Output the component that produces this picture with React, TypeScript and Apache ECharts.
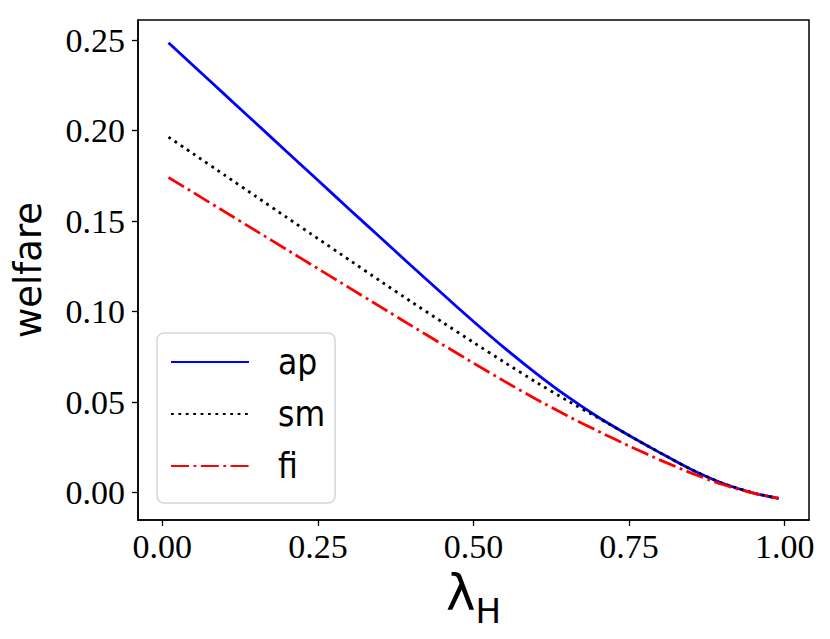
import React, { useEffect, useRef } from "react";
import * as echarts from "echarts";

const xs = [0.01, 0.05, 0.1, 0.15, 0.2, 0.25, 0.3, 0.35, 0.4, 0.45, 0.5, 0.55, 0.6, 0.65, 0.7, 0.75, 0.8, 0.85, 0.9, 0.95, 0.99];
const apValues = [0.2486, 0.2359, 0.2201, 0.2043, 0.1884, 0.1726, 0.1568, 0.1411, 0.1254, 0.1099, 0.0946, 0.0799, 0.0661, 0.0533, 0.0418, 0.0316, 0.0220, 0.0128, 0.0052, -0.0002, -0.0031];
const smValues = [0.1965, 0.1872, 0.1755, 0.1638, 0.1521, 0.1404, 0.1287, 0.1170, 0.1055, 0.0942, 0.0830, 0.0720, 0.0612, 0.0510, 0.0414, 0.0316, 0.0220, 0.0128, 0.0052, -0.0002, -0.0031];
const fiValues = [0.1742, 0.1658, 0.1553, 0.1448, 0.1343, 0.1238, 0.1133, 0.1028, 0.0923, 0.0819, 0.0716, 0.0615, 0.0518, 0.0426, 0.0340, 0.0258, 0.0180, 0.0108, 0.0045, -0.0003, -0.0031];
const xTicks = [0, 0.25, 0.5, 0.75, 1.0];
const yTicks = [0, 0.05, 0.1, 0.15, 0.2, 0.25];
const seriesNames = ["ap", "sm", "fi"];

const pairs = (ys: number[]) => xs.map((x, i) => [x, ys[i]]);

export default function App() {
  const ref = useRef<HTMLDivElement>(null);
  useEffect(() => {
    if (!ref.current) return;
    const chart = echarts.init(ref.current, undefined, { renderer: "svg" });
    const tickFont = { fontFamily: "Liberation Serif", fontSize: 34, color: "#000" };
    chart.setOption({
      animation: false,
      backgroundColor: "#fff",
      grid: {
        left: 138,
        top: 20,
        width: 671,
        height: 500,
        containLabel: false,
        outerBoundsMode: "none",
        show: true,
        borderColor: "#000",
        borderWidth: 1.5,
        backgroundColor: "transparent",
      },
      legend: {
        left: 157,
        top: 333,
        orient: "vertical",
        data: seriesNames,
        itemWidth: 78,
        itemHeight: 2,
        itemGap: 12,
        padding: [9, 10, 17, 13],
        backgroundColor: "#fff",
        borderColor: "#d6d6d6",
        borderWidth: 1.5,
        borderRadius: 7,
        itemStyle: { opacity: 0 },
        textStyle: {
          fontFamily: "DejaVu Sans Condensed",
          fontSize: 35,
          lineHeight: 40,
          color: "#000",
          padding: [0, 0, 0, 24],
        },
      },
      xAxis: {
        type: "value",
        min: -0.039,
        max: 1.039,
        splitLine: { show: false },
        axisLine: { show: true, onZero: false, lineStyle: { color: "#000", width: 1.5 } },
        axisTick: { show: true, customValues: xTicks, length: 6, lineStyle: { color: "#000", width: 1.3 } },
        axisLabel: {
          ...tickFont,
          customValues: xTicks,
          margin: 9,
          formatter: (v: number) => v.toFixed(2),
        },
        name: "{l|λ}{h|H}",
        nameLocation: "middle",
        nameGap: 38,
        nameTextStyle: {
          rich: {
            l: { fontFamily: "DejaVu Sans", fontSize: 50, color: "#000", verticalAlign: "bottom", lineHeight: 56 },
            h: { fontFamily: "DejaVu Sans", fontSize: 34, color: "#000", verticalAlign: "bottom", lineHeight: 56, padding: [0, 0, -10, 0] },
          },
        },
      },
      yAxis: {
        type: "value",
        min: -0.0151,
        max: 0.2612,
        splitLine: { show: false },
        axisLine: { show: true, onZero: false, lineStyle: { color: "#000", width: 1.5 } },
        axisTick: { show: true, customValues: yTicks, length: 6, lineStyle: { color: "#000", width: 1.3 } },
        axisLabel: {
          ...tickFont,
          customValues: yTicks,
          margin: 13,
          formatter: (v: number) => v.toFixed(2),
        },
        name: "welfare",
        nameLocation: "middle",
        nameGap: 91,
        nameTextStyle: { fontFamily: "DejaVu Sans", fontSize: 37, color: "#000" },
      },
      series: [
        {
          name: "ap",
          type: "line",
          data: pairs(apValues),
          showSymbol: false,
          symbol: "none",
          smooth: 0.2,
          lineStyle: { color: "#0000ff", width: 2.8, type: "solid" },
          itemStyle: { color: "#0000ff" },
          z: 3,
        },
        {
          name: "sm",
          type: "line",
          data: pairs(smValues),
          showSymbol: false,
          symbol: "none",
          smooth: 0.2,
          lineStyle: { color: "#000000", width: 2.8, type: [2.8, 4.6] },
          itemStyle: { color: "#000000" },
          z: 4,
        },
        {
          name: "fi",
          type: "line",
          data: pairs(fiValues),
          showSymbol: false,
          symbol: "none",
          smooth: 0.2,
          lineStyle: { color: "#ff0000", width: 2.8, type: [18, 4.5, 2.8, 4.5] },
          itemStyle: { color: "#ff0000" },
          z: 5,
        },
      ],
    });
    return () => chart.dispose();
  }, []);
  return (
    <div
      ref={ref}
      style={{ position: "absolute", left: 0, top: 0, width: 830, height: 639 }}
    />
  );
}
